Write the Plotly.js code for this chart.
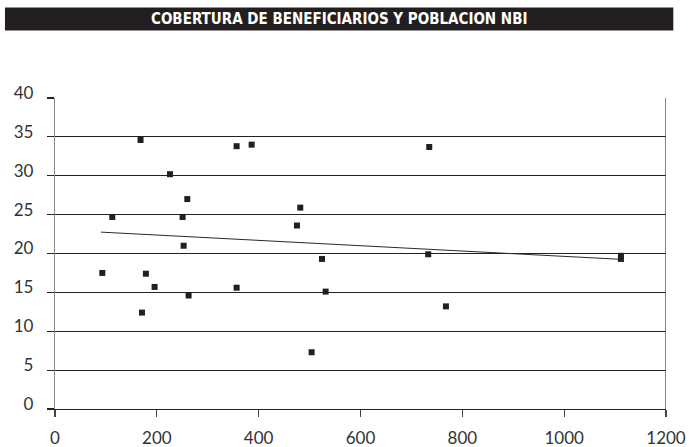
<!DOCTYPE html>
<html>
<head>
<meta charset="utf-8">
<script src="https://cdn.plot.ly/plotly-3.0.1.min.js"></script>
<style>html,body{margin:0;padding:0;background:#fff;}#chart{width:689px;height:447px;}</style>
</head>
<body>
<div id="chart"></div>
<script>
// Población NBI (x) vs cobertura de beneficiarios (y)
const poblacionNBI = [92.9, 112.5, 168, 170.8, 178.5, 195.6, 225.8, 250.6, 252.6, 259.8, 262.4,
  356.7, 356.7, 386.2, 475.2, 481.7, 504, 524.4, 531.5, 733, 735, 767.8, 1111.5, 1111.5];
const cobertura = [17.5, 24.7, 34.6, 12.4, 17.4, 15.7, 30.2, 24.7, 21.0, 27.0, 14.6,
  33.8, 15.6, 34.0, 23.6, 25.9, 7.3, 19.3, 15.1, 19.9, 33.7, 13.2, 19.3, 19.7];
// Linear trend line endpoints
const trendX = [90, 1111.5];
const trendY = [22.75, 19.25];
const xTicks = [0, 200, 400, 600, 800, 1000, 1200];
const yTicks = [0, 5, 10, 15, 20, 25, 30, 35, 40];
const chartTitle = 'COBERTURA DE BENEFICIARIOS Y POBLACION NBI';

const L = 55, R = 665.7, T = 97.7, B = 409.3;
const pw = R - L, ph = B - T;
const px = v => (v - L) / pw;
const py = v => (B - v) / ph;

const traces = [
  {
    x: trendX, y: trendY, type: 'scatter', mode: 'lines',
    line: {color: '#2a2a2a', width: 1}, hoverinfo: 'skip', showlegend: false
  },
  {
    x: poblacionNBI, y: cobertura, type: 'scatter', mode: 'markers',
    marker: {symbol: 'square', size: 6, color: '#231f20'}, showlegend: false
  }
];

const tickFont = {family: 'Lato, "Open Sans", sans-serif', size: 17, color: '#333'};

const layout = {
  width: 689, height: 447,
  margin: {l: L, r: 689 - R, t: T, b: 447 - B, pad: 0},
  paper_bgcolor: '#fff', plot_bgcolor: '#fff',
  showlegend: false,
  xaxis: {
    range: [0, 1200], tickvals: xTicks, ticktext: xTicks.map(String),
    showgrid: false, zeroline: false,
    showline: true, linecolor: '#222', linewidth: 1.3,
    ticks: 'outside', ticklen: 7, tickcolor: '#444', tickwidth: 1.2,
    tickfont: tickFont, ticklabelstandoff: 6
  },
  yaxis: {
    range: [0, 40], tickvals: yTicks, ticktext: yTicks.map(String),
    showgrid: true, gridcolor: '#222', gridwidth: 1.2,
    zeroline: false, showline: true, linecolor: '#888', linewidth: 1.2,
    ticks: 'outside', ticklen: 7, tickcolor: '#222', tickwidth: 1.2,
    tickfont: tickFont, ticklabelstandoff: 10, ticklabelshift: -5
  },
  shapes: [
    {type: 'line', xref: 'x', yref: 'y', x0: 1200, x1: 1200, y0: 0, y1: 40,
     line: {color: '#444', width: 1.3}},
    {type: 'rect', xref: 'paper', yref: 'paper', layer: 'above',
     x0: px(5), x1: px(673), y0: py(30), y1: py(7),
     fillcolor: '#231f20', line: {width: 0}}
  ],
  annotations: [
    {xref: 'paper', yref: 'paper', x: px(339), y: py(18.5), showarrow: false,
     xanchor: 'center', yanchor: 'middle',
     text: '<b>' + chartTitle + '</b>',
     font: {family: '"DejaVu Sans Condensed", "Liberation Sans Narrow", sans-serif', size: 15, color: '#fff'}}
  ]
};

Plotly.newPlot('chart', traces, layout, {displayModeBar: false, staticPlot: true});
</script>
</body>
</html>
